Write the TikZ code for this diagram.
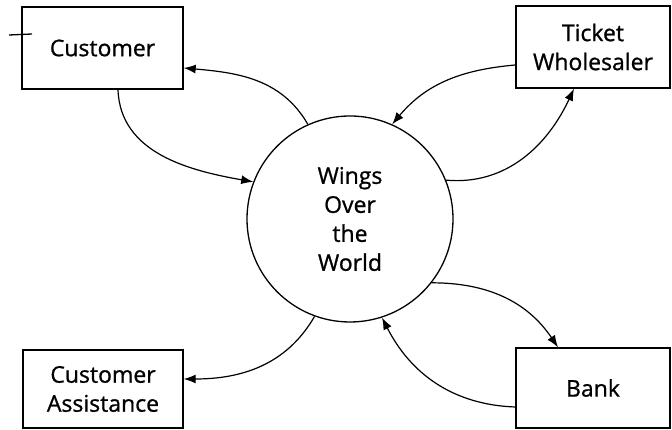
\documentclass[tikz,border=0pt]{standalone}
\usepackage{fontspec}
\setmainfont[FakeBold=0.9]{Open Sans}
\usetikzlibrary{arrows.meta}
\begin{document}
\begin{tikzpicture}[x=1pt,y=1pt,
  every node/.style={font=\fontsize{23}{29}\selectfont, align=center, inner sep=0pt},
  entity/.style={draw, line width=1.4pt, minimum width=#1, text=black},
  entity/.default=158pt,
  process/.style={draw, circle, line width=1.3pt, minimum size=206pt},
  flow/.style={line width=1.2pt, -{Latex[length=12pt,width=9pt]}}]
\useasboundingbox (0,0) rectangle (672,430);

% external entities
\node[entity=161pt, minimum height=82pt] (cust) at (102.5,382) {Customer};
\node[entity=154pt, minimum height=82pt] (tw) at (593,383) {Ticket\\Wholesaler};
\node[entity=160pt, minimum height=78pt] (ca) at (103,41) {Customer\\Assistance};
\node[entity=154pt, minimum height=80pt] (bank) at (593,42) {Bank};

% the central process
\node[process] (circ) at (350,211) {Wings\\Over\\the\\World};

% stray pen mark beside the customer box
\coordinate (markL) at (9,395);
\coordinate (markR) at (32,396);
\draw[line width=1.3pt] (markL) -- (markR);

% data flows
\draw[flow] ([xshift=15.5pt]cust.south) to[out=-88,in=170] (circ.159);
\draw[flow] (circ.114) to[out=120,in=-5] ([yshift=-20pt]cust.east);
\draw[flow] ([yshift=-18pt]tw.west) to[out=185,in=50] (circ.66);
\draw[flow] (circ.22) to[out=-5,in=-115] ([xshift=-19pt]tw.south);
\draw[flow] (circ.-38) to[out=0,in=124] ([xshift=-35pt]bank.north);
\draw[flow] ([yshift=-19pt]bank.west) to[out=178,in=-63] (circ.-72);
\draw[flow] (circ.-110) to[out=-120,in=0] ([yshift=10pt]ca.east);
\end{tikzpicture}
\end{document}
